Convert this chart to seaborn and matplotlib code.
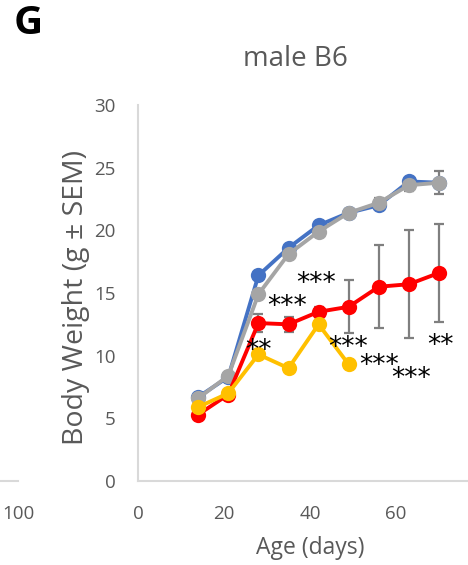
import numpy as np
import pandas as pd
import matplotlib
matplotlib.use("Agg")
import matplotlib.pyplot as plt
import seaborn as sns

# ---- data ----
days = [14, 21, 28, 35, 42, 49, 56, 63, 70]
blue_vals = [6.7, 8.3, 16.4, 18.6, 20.4, 21.4, 22.0, 23.9, 23.8]
grey_vals = [6.6, 8.4, 14.9, 18.1, 19.9, 21.4, 22.2, 23.6, 23.8]
red_vals = [5.3, 6.9, 12.6, 12.5, 13.5, 13.9, 15.5, 15.7, 16.6]
yellow_days = [14, 21, 28, 35, 42, 49]
yellow_vals = [5.9, 7.0, 10.1, 9.0, 12.5, 9.3]
grey_sem = [0.2, 0.2, 0.3, 0.3, 0.3, 0.3, 0.4, 0.5, 0.9]
red_sem = [0.2, 0.2, 0.75, 0.6, 0.4, 2.1, 3.3, 4.3, 3.9]

star_x = [28, 34.6, 41.5, 48.8, 56, 63.6, 70.4]
star_y = [10.85, 14.4, 16.2, 11.1, 9.65, 8.65, 11.25]
star_txt = ["**", "***", "***", "***", "***", "***", "**"]

title = "male B6"
xlabel = "Age (days)"
ylabel = "Body Weight (g \u00b1 SEM)"
panel = "G"
yticks = [0, 5, 10, 15, 20, 25, 30]
xticks = [0, 20, 40, 60]

series_names = ["blue", "grey", "red", "yellow"]
colors = {"blue": "#4472C4", "grey": "#A5A5A5", "red": "#FF0000", "yellow": "#FFC000"}

df = pd.concat([
    pd.DataFrame({"day": days, "w": blue_vals, "g": "blue"}),
    pd.DataFrame({"day": days, "w": grey_vals, "g": "grey"}),
    pd.DataFrame({"day": days, "w": red_vals, "g": "red"}),
    pd.DataFrame({"day": yellow_days, "w": yellow_vals, "g": "yellow"}),
])

sns.set_style("white")
plt.rcParams["font.family"] = ["Open Sans", "DejaVu Sans"]
txtc = "#595959"

fig = plt.figure(figsize=(4.68, 5.65), dpi=100)
ax = fig.add_axes([138 / 468, 1 - 481 / 565, (482 - 138) / 468, (481 - 105) / 565])

# error bars (behind markers)
ax.errorbar(days, grey_vals, yerr=grey_sem, fmt="none", ecolor="#7F7F7F",
            elinewidth=1.6, capsize=3.5, capthick=1.6, zorder=1)
ax.errorbar(days, red_vals, yerr=red_sem, fmt="none", ecolor="#7F7F7F",
            elinewidth=1.6, capsize=3.5, capthick=1.6, zorder=1)

for i, name in enumerate(series_names):
    sub = df[df["g"] == name]
    sns.lineplot(data=sub, x="day", y="w", ax=ax, color=colors[name], marker="o",
                 markersize=11, markeredgewidth=0, linewidth=2.8, legend=False,
                 zorder=3 + i)

for x, y, t in zip(star_x, star_y, star_txt):
    ax.annotate(t, (x, y), xytext=(0, -4.5), textcoords="offset points",
                ha="center", va="center", fontsize=19, color="black",
                family="DejaVu Sans", zorder=10)

ax.set_xlim(0, 80)
ax.set_ylim(0, 30)
ax.set_xticks(xticks)
ax.set_yticks(yticks)
ax.tick_params(axis="both", length=0, labelsize=13.5, colors=txtc)
ax.tick_params(axis="x", pad=17)
ax.tick_params(axis="y", pad=16)
for s in ["top", "right"]:
    ax.spines[s].set_visible(False)
for s in ["left", "bottom"]:
    ax.spines[s].set_color("#D9D9D9")
    ax.spines[s].set_linewidth(1.5)
ax.set_xlabel(xlabel, fontsize=16.5, color=txtc, labelpad=10)
ax.set_ylabel(ylabel, fontsize=20.5, color=txtc)
ax.yaxis.set_label_coords(-0.14, 0.489)
t = ax.set_title(title, fontsize=20, color=txtc, pad=28)
t.set_x((295 - 138) / 344)

# neighbouring panel remnant
ax2 = fig.add_axes([-0.3, 1 - 481 / 565, 0.3 + 18 / 468, 0.2])
ax2.set_xlim(0, 100)
ax2.set_ylim(0, 1)
ax2.set_xticks([100])
ax2.set_yticks([])
ax2.patch.set_alpha(0)
for s in ["top", "right", "left"]:
    ax2.spines[s].set_visible(False)
ax2.spines["bottom"].set_color("#D9D9D9")
ax2.spines["bottom"].set_linewidth(1.5)
ax2.tick_params(axis="x", length=0, labelsize=13.5, colors=txtc, pad=17)

fig.text(14 / 468, 1 - 24 / 565, panel, fontsize=29, fontweight="bold",
         color="black", va="center", ha="left")

fig.savefig("out.png", dpi=100)
